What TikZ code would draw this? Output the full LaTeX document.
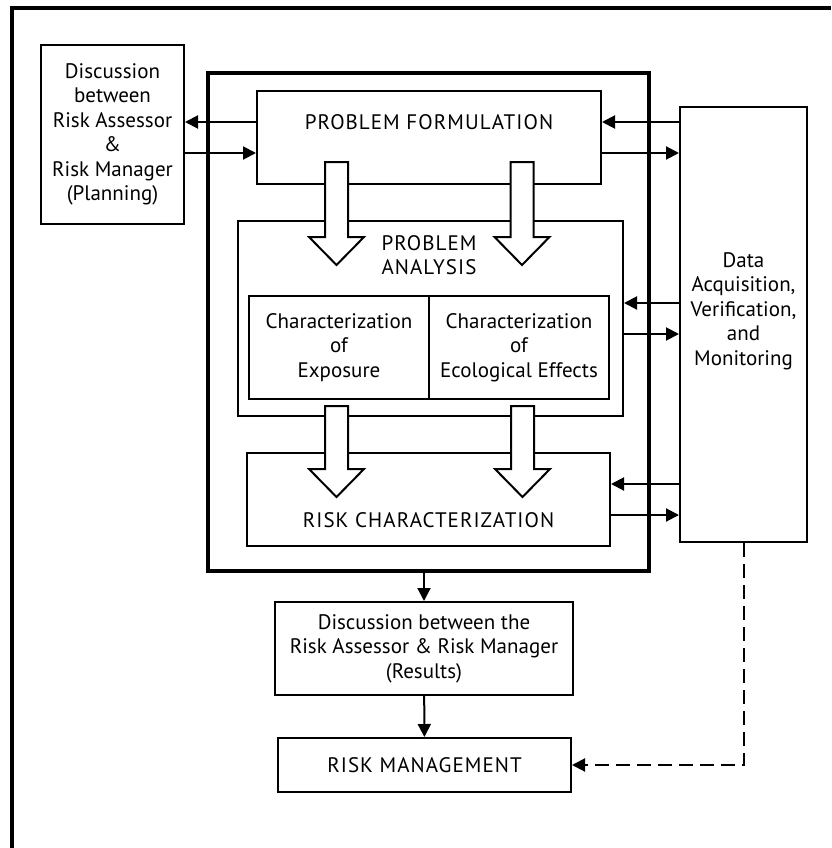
\documentclass[tikz,border=0pt]{standalone}
\usepackage{fontspec}
\setmainfont{PT Sans}
\usetikzlibrary{arrows.meta,positioning,calc}
\newcommand{\spaced}[1]{{\addfontfeatures{LetterSpace=5}#1}}
\tikzset{
  box/.style={draw,line width=2pt,align=center,inner sep=0pt},
  mainbox/.style={draw,line width=3.8pt,inner sep=0pt},
  txt/.style={align=center,inner sep=0pt},
  conn/.style={line width=2pt,-{Triangle[length=13pt,width=13pt]}},
  hollow/.style={draw,line width=2pt,fill=white},
}

\begin{document}
\begin{tikzpicture}[x=1pt,y=-1pt,font=\fontsize{21}{24.5}\selectfont]
  \useasboundingbox (0,0) rectangle (831,848);
  %% page frame
  \draw[line width=3.5pt] (12,848) -- (12,8) -- (831,8);

  %% assessment block
  \node[mainbox,minimum width=441pt,minimum height=498pt] (main) at (428.5,322) {};
  \node[box,minimum width=344pt,minimum height=93pt] (pf) at (429,137.5) {};
  \node[txt] (pftext) at (429,122) {\spaced{PROBLEM FORMULATION}};
  \node[box,minimum width=385pt,minimum height=195pt] (pa) at (430.5,318.5) {};
  \node[txt] (patext) at (429,255) {\spaced{PROBLEM}\\\spaced{ANALYSIS}};
  \node[box,minimum width=180pt,minimum height=103pt] (exp) at (339,347.5)
        {Characterization\\of\\Exposure};
  \node[box,minimum width=180pt,minimum height=103pt] (eco) at (519,347.5)
        {Characterization\\of\\Ecological Effects};
  \node[box,minimum width=363pt,minimum height=93pt] (rc) at (428.5,499.5) {};
  \node[txt] (rctext) at (428.5,520) {\spaced{RISK CHARACTERIZATION}};

  %% side boxes
  \node[box,minimum width=143pt,minimum height=179pt] (plan) at (112.5,134.5)
        {Discussion\\between\\Risk Assessor\\\&\\Risk Manager\\(Planning)};
  \node[box,minimum width=127pt,minimum height=435pt] (data) at (743.5,324.5) {};
  \node[txt] (datatext) at (743.5,311)
        {Data\\Acquisition,\\Verification,\\and\\Monitoring};

  %% results
  \node[box,minimum width=298pt,minimum height=93pt] (res) at (424,648.5)
        {Discussion between the\\Risk Assessor \& Risk Manager\\(Results)};
  \node[box,minimum width=293pt,minimum height=54pt] (rm) at (424.5,765)
        {\spaced{RISK MANAGEMENT}};

  %% hollow flow arrows
  \foreach \cx/\ya/\yb/\yc in {336.5/162/237/265, 522/162/237/265,
                               336.5/406/469/497, 522.5/406/469/497}
    \draw[hollow] (\cx-11.5,\ya) -- (\cx+11.5,\ya) -- (\cx+11.5,\yb)
      -- (\cx+27.5,\yb) -- (\cx,\yc) -- (\cx-27.5,\yb) -- (\cx-11.5,\yb) -- cycle;

  %% planning link
  \coordinate (pfa) at ([yshift=15.5pt]pf.west);
  \coordinate (pfb) at ([yshift=-15.5pt]pf.west);
  \draw[conn] (pfa) -- (plan.east |- pfa);
  \draw[conn] (plan.east |- pfb) -- (pfb);

  %% data links
  \foreach \b in {pf,pa,rc}{
    \coordinate (\b-in) at ([yshift=15.5pt]\b.east);
    \coordinate (\b-out) at ([yshift=-15.5pt]\b.east);
    \draw[conn] (data.west |- \b-in) -- (\b-in);
    \draw[conn] (\b-out) -- (data.west |- \b-out);
  }

  %% down to management
  \draw[conn] (main.south -| res.north) -- (res.north);
  \draw[conn] (res) -- (rm);
  \draw[conn,dash pattern=on 14pt off 7pt] (data.south) |- (rm.east);
\end{tikzpicture}
\end{document}
